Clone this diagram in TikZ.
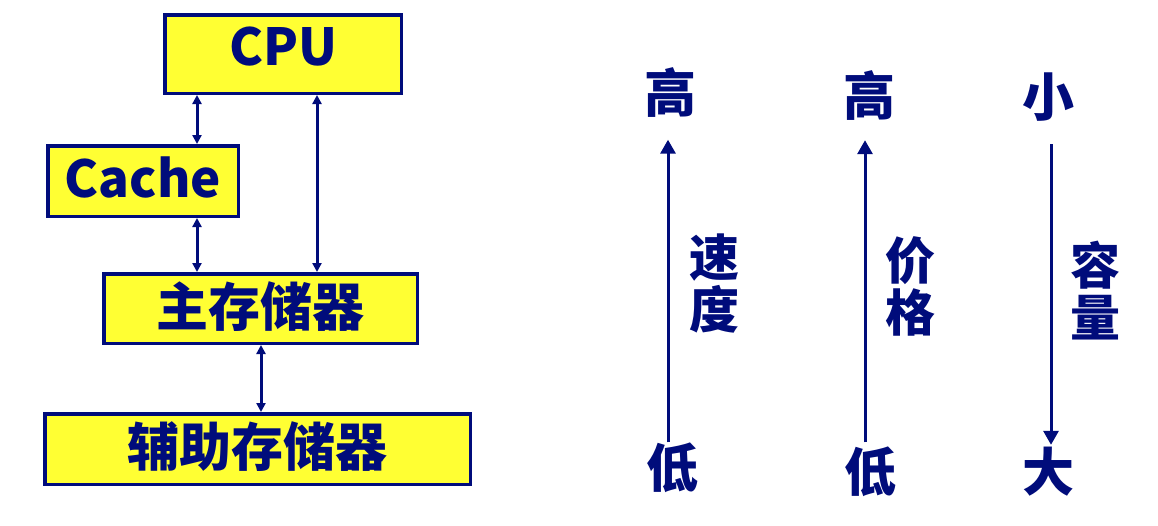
\documentclass[tikz,border=0pt]{standalone}
\usepackage{fontspec}
\setmainfont{Noto Sans CJK SC}
\usetikzlibrary{arrows.meta}
\definecolor{navy}{RGB}{0,12,123}
\definecolor{boxyellow}{RGB}{255,255,51}
\tikzset{
  membox/.style={draw=navy, fill=boxyellow, line width=3.5pt, inner sep=0pt,
    text=navy, font=\bfseries\fontsize{52}{52}\selectfont, text depth=8pt},
  latinbox/.style={membox, font=\bfseries\fontsize{51}{51}\selectfont},
  linkarrow/.style={navy, line width=3pt, {Triangle[length=9pt,width=9pt]}-{Triangle[length=9pt,width=9pt]}},
  scalearrow/.style={navy, line width=3pt, -{Triangle[length=14pt,width=15pt]}},
  cjklabel/.style={text=navy, inner sep=0pt, font=\bfseries\fontsize{52}{52}\selectfont,
    text height=43pt, text depth=4pt},
  vlabel/.style={text=navy, inner sep=0pt, align=center,
    font=\bfseries\fontsize{50}{52}\selectfont}
}
\begin{document}
\begin{tikzpicture}[x=1pt,y=-1pt]
\useasboundingbox[fill=white] (0,0) rectangle (1158,525);
% boxes
\node[latinbox, minimum width=236.5pt, minimum height=78.5pt, text height=30pt] (cpu) at (283,54) {CPU};
\node[latinbox, minimum width=190.5pt, minimum height=70.5pt, text height=40pt] (cache) at (143,181) {Cache};
\node[membox, minimum width=313.5pt, minimum height=69.5pt, text height=43pt] (main) at (260.5,308.5) {主存储器};
\node[membox, minimum width=425.5pt, minimum height=70.5pt, text height=42pt] (aux) at (257.5,449) {辅助存储器};
% links
\draw[linkarrow] (197,0 |- cpu.south) -- (197,0 |- cache.north);
\draw[linkarrow] (197,0 |- cache.south) -- (197,0 |- main.north);
\draw[linkarrow] (317,0 |- cpu.south) -- (317,0 |- main.north);
\draw[linkarrow] (261,0 |- main.south) -- (261,0 |- aux.north);
% scales
\node[cjklabel] (hi1) at (670,93) {高};
\node[cjklabel] (lo1) at (672,468) {低};
\node[cjklabel] (hi2) at (869,95.5) {高};
\node[cjklabel] (lo2) at (870,472) {低};
\node[cjklabel] (small) at (1048,96.5) {小};
\node[cjklabel] (big) at (1048,471.5) {大};
\draw[scalearrow, shorten <=2pt, shorten >=23pt] (668,0 |- lo1.north) -- (668,0 |- hi1.south);
\draw[scalearrow, shorten <=6pt, shorten >=21pt] (865,0 |- lo2.north) -- (865,0 |- hi2.south);
\draw[scalearrow, shorten <=24pt, shorten >=3pt] (1051,0 |- small.south) -- (1051,0 |- big.north);
\node[vlabel] (speed) at (714,283) {速\\度};
\node[vlabel] (price) at (910,286) {价\\格};
\node[vlabel] (cap) at (1095,291) {容\\量};
\end{tikzpicture}
\end{document}
